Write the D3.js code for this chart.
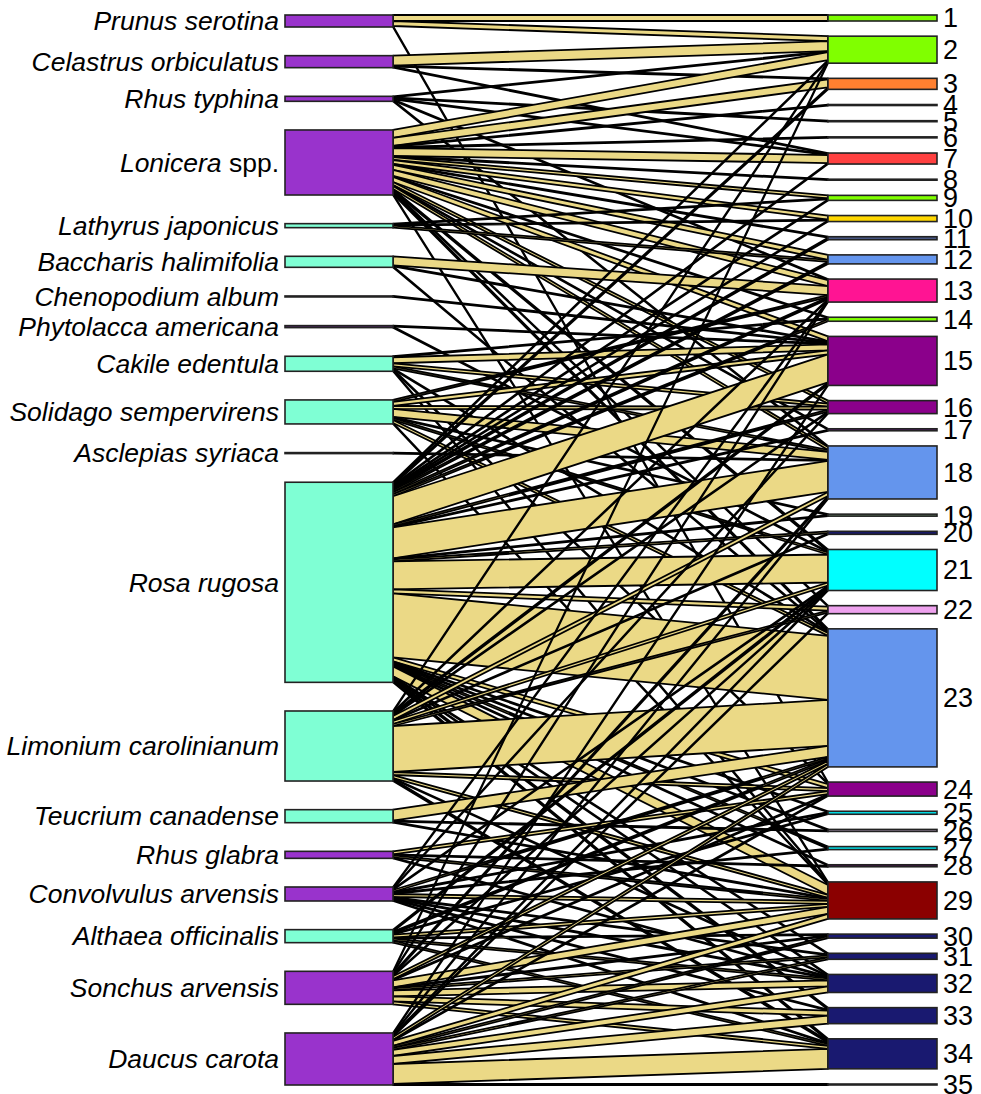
<!DOCTYPE html>
<html>
<head>
<meta charset="utf-8">
<script src="https://cdn.jsdelivr.net/npm/d3@7"></script>
<style>
  body { margin: 0; background: #fff; }
  svg text { font-family: "Liberation Sans", Arial, sans-serif; fill: #000; }
</style>
</head>
<body>
<svg id="web" width="981" height="1094"></svg>
<script>
// Host plants (upper level of the web)
const plants = [
  "Prunus serotina", "Celastrus orbiculatus", "Rhus typhina", "Lonicera spp.",
  "Lathyrus japonicus", "Baccharis halimifolia", "Chenopodium album",
  "Phytolacca americana", "Cakile edentula", "Solidago sempervirens",
  "Asclepias syriaca", "Rosa rugosa", "Limonium carolinianum",
  "Teucrium canadense", "Rhus glabra", "Convolvulus arvensis",
  "Althaea officinalis", "Sonchus arvensis", "Daucus carota"
];

// Visitor groups (lower level of the web)
const insects = [
  "1", "2", "3", "4", "5", "6", "7", "8", "9", "10", "11", "12",
  "13", "14", "15", "16", "17", "18", "19", "20", "21", "22", "23", "24",
  "25", "26", "27", "28", "29", "30", "31", "32", "33", "34", "35"
];

// Interaction counts: [plant, visitor group, count]
const interactions = [
  ["Prunus serotina", 1, 6], ["Prunus serotina", 2, 5], ["Prunus serotina", 24, 1],
  ["Celastrus orbiculatus", 2, 10], ["Celastrus orbiculatus", 3, 1], ["Celastrus orbiculatus", 7, 1],
  ["Rhus typhina", 2, 1], ["Rhus typhina", 5, 1], ["Rhus typhina", 7, 1], ["Rhus typhina", 13, 1], ["Rhus typhina", 18, 1],
  ["Lonicera spp.", 2, 8], ["Lonicera spp.", 3, 8], ["Lonicera spp.", 4, 1], ["Lonicera spp.", 6, 1],
  ["Lonicera spp.", 7, 8], ["Lonicera spp.", 8, 1], ["Lonicera spp.", 9, 3], ["Lonicera spp.", 10, 4],
  ["Lonicera spp.", 11, 1], ["Lonicera spp.", 12, 5], ["Lonicera spp.", 13, 6], ["Lonicera spp.", 14, 1],
  ["Lonicera spp.", 15, 5], ["Lonicera spp.", 16, 3], ["Lonicera spp.", 17, 1], ["Lonicera spp.", 18, 3],
  ["Lonicera spp.", 21, 2], ["Lonicera spp.", 22, 1], ["Lonicera spp.", 23, 2], ["Lonicera spp.", 29, 1],
  ["Lathyrus japonicus", 9, 1], ["Lathyrus japonicus", 10, 1], ["Lathyrus japonicus", 12, 2],
  ["Baccharis halimifolia", 13, 9], ["Baccharis halimifolia", 15, 1], ["Baccharis halimifolia", 23, 1],
  ["Chenopodium album", 15, 1],
  ["Phytolacca americana", 15, 1], ["Phytolacca americana", 21, 1],
  ["Cakile edentula", 14, 1], ["Cakile edentula", 15, 6], ["Cakile edentula", 16, 3], ["Cakile edentula", 18, 2],
  ["Cakile edentula", 23, 1], ["Cakile edentula", 24, 1], ["Cakile edentula", 29, 1],
  ["Solidago sempervirens", 13, 2], ["Solidago sempervirens", 15, 4], ["Solidago sempervirens", 16, 3],
  ["Solidago sempervirens", 18, 8], ["Solidago sempervirens", 19, 1], ["Solidago sempervirens", 21, 2],
  ["Solidago sempervirens", 23, 3], ["Solidago sempervirens", 29, 1],
  ["Asclepias syriaca", 18, 1],
  ["Rosa rugosa", 2, 1], ["Rosa rugosa", 3, 2], ["Rosa rugosa", 7, 1], ["Rosa rugosa", 9, 1],
  ["Rosa rugosa", 10, 1], ["Rosa rugosa", 11, 2], ["Rosa rugosa", 12, 2], ["Rosa rugosa", 13, 2],
  ["Rosa rugosa", 14, 2], ["Rosa rugosa", 15, 28], ["Rosa rugosa", 16, 2], ["Rosa rugosa", 17, 1],
  ["Rosa rugosa", 18, 31], ["Rosa rugosa", 19, 1], ["Rosa rugosa", 20, 2], ["Rosa rugosa", 21, 28],
  ["Rosa rugosa", 22, 4], ["Rosa rugosa", 23, 64], ["Rosa rugosa", 24, 4], ["Rosa rugosa", 25, 1],
  ["Rosa rugosa", 26, 1], ["Rosa rugosa", 27, 2], ["Rosa rugosa", 28, 1], ["Rosa rugosa", 29, 10],
  ["Rosa rugosa", 31, 1], ["Rosa rugosa", 32, 1], ["Rosa rugosa", 33, 2], ["Rosa rugosa", 34, 2],
  ["Limonium carolinianum", 2, 1], ["Limonium carolinianum", 13, 1], ["Limonium carolinianum", 15, 2],
  ["Limonium carolinianum", 16, 1], ["Limonium carolinianum", 18, 4], ["Limonium carolinianum", 20, 1],
  ["Limonium carolinianum", 21, 3], ["Limonium carolinianum", 22, 2], ["Limonium carolinianum", 23, 46],
  ["Limonium carolinianum", 24, 3], ["Limonium carolinianum", 29, 3], ["Limonium carolinianum", 32, 1],
  ["Limonium carolinianum", 34, 2],
  ["Teucrium canadense", 23, 11], ["Teucrium canadense", 26, 1], ["Teucrium canadense", 29, 1],
  ["Rhus glabra", 24, 3], ["Rhus glabra", 28, 1], ["Rhus glabra", 29, 2], ["Rhus glabra", 32, 1],
  ["Convolvulus arvensis", 13, 1], ["Convolvulus arvensis", 16, 1], ["Convolvulus arvensis", 21, 1],
  ["Convolvulus arvensis", 23, 2], ["Convolvulus arvensis", 25, 1], ["Convolvulus arvensis", 27, 1],
  ["Convolvulus arvensis", 29, 3], ["Convolvulus arvensis", 31, 1], ["Convolvulus arvensis", 32, 1],
  ["Convolvulus arvensis", 33, 1], ["Convolvulus arvensis", 34, 1],
  ["Althaea officinalis", 21, 2], ["Althaea officinalis", 23, 2], ["Althaea officinalis", 25, 1],
  ["Althaea officinalis", 29, 3], ["Althaea officinalis", 30, 1], ["Althaea officinalis", 32, 2],
  ["Althaea officinalis", 34, 2],
  ["Sonchus arvensis", 2, 1], ["Sonchus arvensis", 13, 1], ["Sonchus arvensis", 18, 2], ["Sonchus arvensis", 21, 1],
  ["Sonchus arvensis", 23, 3], ["Sonchus arvensis", 24, 1], ["Sonchus arvensis", 29, 7], ["Sonchus arvensis", 30, 1],
  ["Sonchus arvensis", 31, 2], ["Sonchus arvensis", 32, 6], ["Sonchus arvensis", 33, 5], ["Sonchus arvensis", 34, 3],
  ["Daucus carota", 15, 1], ["Daucus carota", 18, 1], ["Daucus carota", 21, 1], ["Daucus carota", 22, 1],
  ["Daucus carota", 23, 3], ["Daucus carota", 24, 1], ["Daucus carota", 29, 5], ["Daucus carota", 30, 2],
  ["Daucus carota", 31, 2], ["Daucus carota", 32, 6], ["Daucus carota", 33, 8], ["Daucus carota", 34, 20],
  ["Daucus carota", 35, 1]
];

// Box fills
const PURPLE = "#9933cc", AQUA = "#7fffd4";
const plantColors = [
  PURPLE, PURPLE, PURPLE, PURPLE, AQUA, AQUA, PURPLE, "#5b2a73", AQUA, AQUA,
  AQUA, AQUA, AQUA, AQUA, PURPLE, PURPLE, AQUA, PURPLE, PURPLE
];
const insectColors = [
  "#7cfc00", "#80ff00", "#ff8030", "#222222", "#222222", "#222222", "#ff4040", "#222222",
  "#80ff00", "#ffd700", "#4a5a8a", "#6495ed", "#ff1493", "#80ff00", "#8b008b", "#8b008b",
  "#551a6b", "#6495ed", "#6b8e6b", "#191970", "#00ffff", "#eea2ee", "#6495ed", "#8b008b",
  "#00e5ee", "#c9b0d0", "#00e5ee", "#4b1050", "#8b0000", "#191970", "#191970", "#191970",
  "#191970", "#191970", "#222222"
];
const LINK_FILL = "#ebd986";

const svg = d3.select("#web");
const yTop = 15, yBottom = 1085;
const span = yBottom - yTop;
const leftX = [285, 393], rightX = [828, 937];

const total = d3.sum(interactions, d => d[2]);
const plantTotals = plants.map(p => d3.sum(interactions.filter(d => d[0] === p), d => d[2]));
const insectTotals = insects.map(k => d3.sum(interactions.filter(d => String(d[1]) === k), d => d[2]));

// Share of each column's height taken by boxes; the rest is split evenly into gaps
const boxShare = 0.518;
const unit = d3.scaleLinear().domain([0, total]).range([0, span * boxShare]);

function stackBoxes(totals) {
  const gap = (span - unit(total)) / (totals.length - 1);
  let y = yTop;
  return totals.map(t => {
    const b = { y0: y, y1: y + unit(t) };
    y = b.y1 + gap;
    return b;
  });
}
const plantBoxes = stackBoxes(plantTotals);
const insectBoxes = stackBoxes(insectTotals);

// Link ends: within a plant box ordered by visitor group, within a visitor box ordered by plant
const links = interactions.map(d => ({ p: plants.indexOf(d[0]), i: insects.indexOf(String(d[1])), v: d[2] }));
const pCursor = plantBoxes.map(b => b.y0);
d3.sort(links, d => d.p, d => d.i).forEach(l => {
  l.ly0 = pCursor[l.p]; l.ly1 = l.ly0 + unit(l.v); pCursor[l.p] = l.ly1;
});
const iCursor = insectBoxes.map(b => b.y0);
d3.sort(links, d => d.i, d => d.p).forEach(l => {
  l.ry0 = iCursor[l.i]; l.ry1 = l.ry0 + unit(l.v); iCursor[l.i] = l.ry1;
});

const band = l => `M${leftX[1]},${l.ly0}L${rightX[0]},${l.ry0}L${rightX[0]},${l.ry1}L${leftX[1]},${l.ly1}Z`;

svg.append("g")
  .selectAll("path")
  .data(d3.sort(links, d => d.p, d => d.i))
  .join("path")
  .attr("d", band)
  .attr("fill", LINK_FILL)
  .attr("stroke", "#000")
  .attr("stroke-width", 1.8)
  .attr("stroke-linejoin", "round");

// Plant boxes and labels
const gPlants = svg.append("g");
gPlants.selectAll("rect")
  .data(plantBoxes)
  .join("rect")
  .attr("x", leftX[0])
  .attr("y", d => d.y0)
  .attr("width", leftX[1] - leftX[0])
  .attr("height", d => d.y1 - d.y0)
  .attr("fill", (d, i) => plantColors[i])
  .attr("stroke", "#222")
  .attr("stroke-width", 1.6);

const plantLabels = gPlants.selectAll("text")
  .data(plants)
  .join("text")
  .attr("x", 279)
  .attr("y", (d, i) => (plantBoxes[i].y0 + plantBoxes[i].y1) / 2)
  .attr("dy", "0.35em")
  .attr("text-anchor", "end")
  .attr("font-size", 26.5);
plantLabels.each(function (name) {
  const t = d3.select(this);
  const m = name.match(/^(.*?)( spp\.)$/);
  if (m) {
    t.append("tspan").attr("font-style", "italic").text(m[1]);
    t.append("tspan").text(m[2]);
  } else {
    t.append("tspan").attr("font-style", "italic").text(name);
  }
});

// Visitor boxes and labels
const gInsects = svg.append("g");
gInsects.selectAll("rect")
  .data(insectBoxes)
  .join("rect")
  .attr("x", rightX[0])
  .attr("y", d => d.y0)
  .attr("width", rightX[1] - rightX[0])
  .attr("height", d => d.y1 - d.y0)
  .attr("fill", (d, i) => insectColors[i])
  .attr("stroke", "#222")
  .attr("stroke-width", 1.6);

gInsects.selectAll("text")
  .data(insects)
  .join("text")
  .attr("x", 943)
  .attr("y", (d, i) => (insectBoxes[i].y0 + insectBoxes[i].y1) / 2)
  .attr("dy", "0.35em")
  .attr("font-size", 27)
  .text(d => d);
</script>
</body>
</html>
